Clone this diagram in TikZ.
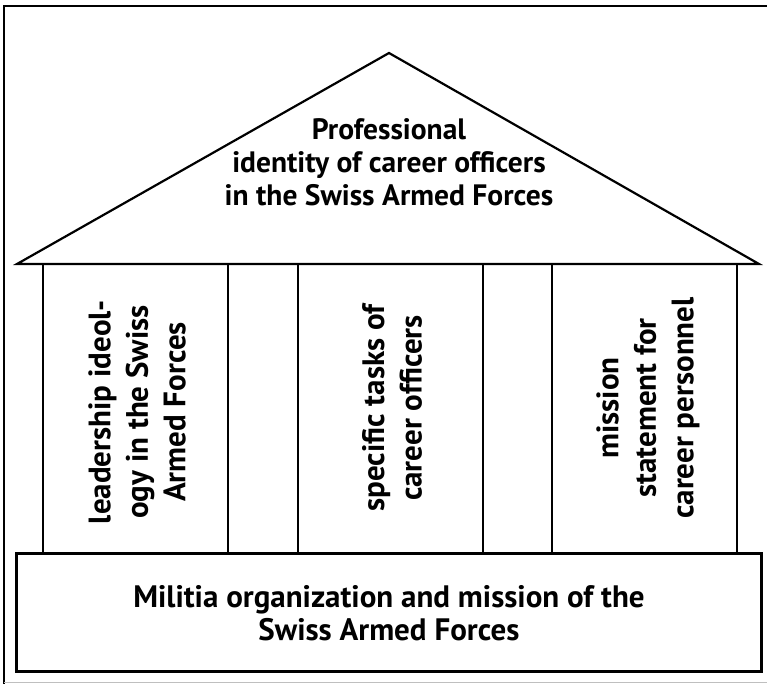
\documentclass[tikz,border=0pt]{standalone}
\usepackage{fontspec}
\setmainfont{PT Sans}
\begin{document}
\begin{tikzpicture}[x=1pt,y=-1pt,
  edge/.style={draw=black,line width=2.2pt,line join=miter},
  lbl/.style={font=\bfseries\fontsize{29.5}{33}\selectfont,align=center,inner sep=0pt},
  blbl/.style={font=\bfseries\fontsize{31}{33}\selectfont,align=center,inner sep=0pt},
  plbl/.style={font=\bfseries\fontsize{31}{37.5}\selectfont,align=center,inner sep=0pt,rotate=90}]
\useasboundingbox (0,0) rectangle (767,684);
% outer frame (clipped on right)
\draw[line width=2.6pt] (4,684) -- (4,6) -- (767,6);
\draw[line width=1.6pt,black!25] (4,682.5) -- (767,682.5);
% roof
\coordinate (rl) at (17,264);
\coordinate (ra) at (389,53);
\coordinate (rr) at (759,264);
\draw[edge] (rl) -- (ra) -- (rr) -- cycle;
% pillars
\draw[edge] (43,264) rectangle (228,553);
\draw[edge] (298,264) rectangle (483,553);
\draw[edge] (552,264) rectangle (737,553);
% base
\draw[edge,line width=3pt] (16,553) rectangle (761,671);
% texts
\node[lbl] (roof) at (389,162) {Professional\\identity of career officers\\in the Swiss Armed Forces};
\node[plbl] (p1) at (137,412) {leadership ideol-\\ogy in the Swiss\\Armed Forces};
\node[plbl] (p2) at (392,408) {specific tasks of\\career officers};
\node[plbl] (p3) at (648,408) {mission\\statement for\\career personnel};
\node[blbl] (base) at (389,613) {Militia organization and mission of the\\Swiss Armed Forces};
\end{tikzpicture}
\end{document}
